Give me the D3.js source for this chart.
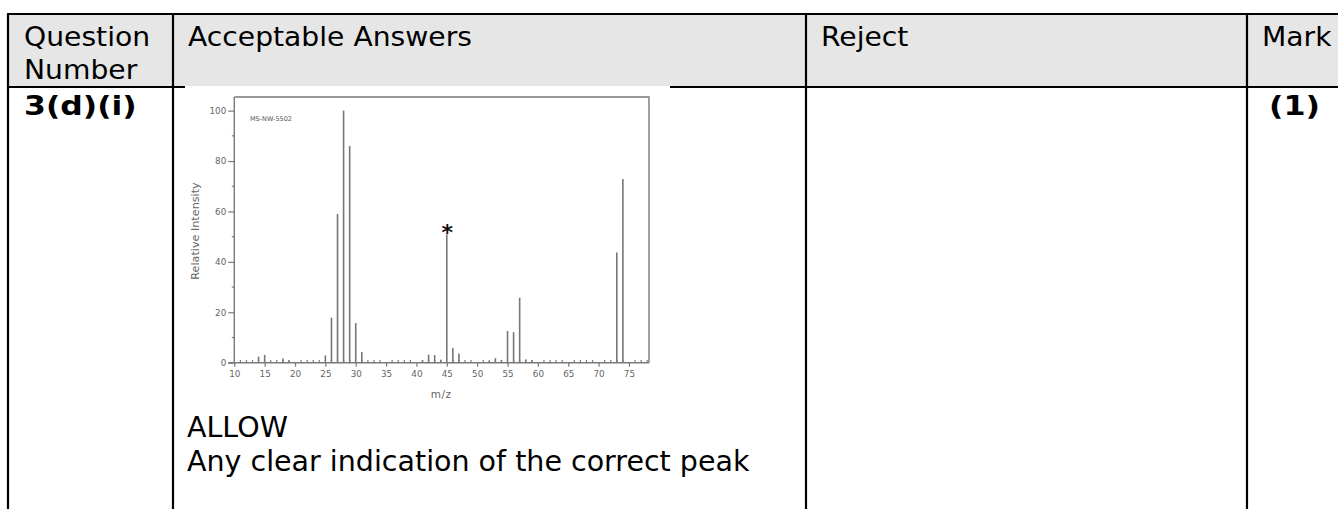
<!DOCTYPE html>
<html>
<head>
<meta charset="utf-8">
<script src="https://cdn.jsdelivr.net/npm/d3@7"></script>
<style>
  html, body { margin: 0; padding: 0; background: #fff; }
  svg { display: block; }
  text { font-family: "DejaVu Sans", Verdana, sans-serif; }
</style>
</head>
<body>
<svg id="chart" width="1338" height="509"></svg>
<script>
// ---- table content ----
const headers = ["Question|Number", "Acceptable Answers", "Reject", "Mark"];
const questionId = "3(d)(i)";
const markText = "(1)";
const answerLines = ["ALLOW", "Any clear indication of the correct peak"];

// ---- spectrum data (m/z, relative intensity) ----
const mzValues = [14, 15, 18, 19, 25, 26, 27, 28, 29, 30, 31, 41, 42, 43, 44, 45, 46, 47, 52, 53, 54, 55, 56, 57, 58, 59, 73, 74];
const intensities = [2.4, 3.1, 1.7, 0.9, 2.9, 17.9, 59, 100, 86, 15.7, 4.2, 1.0, 3.2, 3.0, 1.2, 51, 5.8, 3.6, 0.7, 1.8, 1.0, 12.6, 12.1, 25.8, 1.3, 1.0, 43.7, 72.9];
const xTickLabels = [10, 15, 20, 25, 30, 35, 40, 45, 50, 55, 60, 65, 70, 75];
const yTickLabels = [0, 20, 40, 60, 80, 100];
const markedPeak = 45;
const spectrumId = "MS-NW-5502";

const svg = d3.select("#chart");

// ---- table geometry ----
const colEdges = [8, 173, 806, 1247, 1338];
const tableTop = 14, headerBottom = 87, tableBottom = 509;

svg.append("rect").attr("x", 9).attr("y", tableTop).attr("width", 1338 - 9).attr("height", headerBottom - tableTop)
  .attr("fill", "#e6e6e6");

svg.append("line").attr("x1", colEdges[0] - 1).attr("x2", 1338).attr("y1", tableTop).attr("y2", tableTop)
  .attr("stroke", "#000").attr("stroke-width", 2.2);
svg.append("line").attr("x1", colEdges[0] - 1).attr("x2", 1338).attr("y1", headerBottom).attr("y2", headerBottom)
  .attr("stroke", "#000").attr("stroke-width", 2);

colEdges.slice(0, 4).forEach(x => {
  svg.append("line").attr("x1", x).attr("x2", x).attr("y1", tableTop).attr("y2", tableBottom)
    .attr("stroke", "#000").attr("stroke-width", 2.2);
});

// header text (slightly wide face, like Verdana)
const headerX = [24, 188, 821, 1262];
headers.forEach((h, i) => {
  h.split("|").forEach((line, j) => {
    svg.append("text").attr("transform", `translate(${headerX[i]},${46 + j * 33}) scale(1.085,1)`)
      .attr("font-size", 26).attr("fill", "#000").text(line);
  });
});

// body row text
svg.append("text").attr("transform", "translate(24,115) scale(1.21,1)").attr("font-size", 26)
  .attr("font-weight", "bold").text(questionId);
svg.append("text").attr("transform", "translate(1269,115) scale(1.22,1)").attr("font-size", 26)
  .attr("font-weight", "bold").text(markText);

// ---- spectrum image ----
const g = svg.append("g");
g.append("rect").attr("x", 185).attr("y", 86).attr("width", 485).attr("height", 320).attr("fill", "#fff");

const x = d3.scaleLinear().domain([10, 78.3]).range([234.3, 649]);
const y = d3.scaleLinear().domain([0, 105.4]).range([362.7, 97]);
const axisColor = "#7a7a7a";

g.append("path")
  .attr("d", `M${x(10)},${y(105.4)}H${x(78.3)}V${y(0)}`)
  .attr("fill", "none").attr("stroke", axisColor).attr("stroke-width", 1.4);

const yAxis = d3.axisLeft(y).tickValues(yTickLabels).tickSize(6).tickPadding(2);
const yg = g.append("g").attr("transform", `translate(${x(10)},0)`).call(yAxis);
yg.select(".domain").attr("stroke", axisColor).attr("stroke-width", 1.4).attr("d", `M0,${y(105.4)}V${y(0) + 1}`);
yg.selectAll(".tick line").attr("stroke", axisColor).attr("stroke-width", 1.2);
yg.selectAll(".tick text").attr("fill", "#666").attr("font-size", 8.8).attr("font-family", "DejaVu Sans");
const yMinor = d3.range(10, 100, 20);
g.selectAll(".yminor").data(yMinor).join("line")
  .attr("x1", x(10) - 2.5).attr("x2", x(10)).attr("y1", d => y(d)).attr("y2", d => y(d))
  .attr("stroke", axisColor).attr("stroke-width", 1.2);

const xAxis = d3.axisBottom(x).tickValues(xTickLabels).tickSize(4).tickPadding(4);
const xg = g.append("g").attr("transform", `translate(0,${y(0)})`).call(xAxis);
xg.select(".domain").attr("stroke", axisColor).attr("stroke-width", 1.4).attr("d", `M${x(10) - 6},0H${x(78.3)}`);
xg.selectAll(".tick line").attr("stroke", axisColor).attr("stroke-width", 1.2);
xg.selectAll(".tick text").attr("fill", "#666").attr("font-size", 8.8).attr("font-family", "DejaVu Sans");
const xMinor = d3.range(11, 79).filter(v => v % 5 !== 0);
g.selectAll(".xminor").data(xMinor).join("line")
  .attr("x1", d => x(d)).attr("x2", d => x(d)).attr("y1", y(0)).attr("y2", y(0) - 2.8)
  .attr("stroke", axisColor).attr("stroke-width", 1.2);

const peaks = mzValues.map((m, i) => ({ mz: m, v: intensities[i] }));
g.selectAll(".peak").data(peaks).join("line")
  .attr("x1", d => x(d.mz)).attr("x2", d => x(d.mz))
  .attr("y1", y(0)).attr("y2", d => y(d.v))
  .attr("stroke", "#777").attr("stroke-width", 1.6);

g.append("text").attr("x", (x(10) + x(78.3)) / 2 - 0.5).attr("y", 398).attr("text-anchor", "middle")
  .attr("font-size", 10.5).attr("fill", "#666").attr("letter-spacing", 0.5).text("m/z");
g.append("text").attr("transform", "translate(199,231) rotate(-90)").attr("text-anchor", "middle")
  .attr("font-size", 11.2).attr("fill", "#666").text("Relative Intensity");
g.append("text").attr("x", 250).attr("y", 121).attr("font-size", 6.5).attr("fill", "#555").text(spectrumId);

const mp = peaks.find(p => p.mz === markedPeak);
g.append("text").attr("x", x(mp.mz) + 0.5).attr("y", y(mp.v) + 6).attr("text-anchor", "middle")
  .attr("font-size", 22).attr("font-weight", "bold").attr("fill", "#111").text("*");

answerLines.forEach((line, i) => {
  svg.append("text").attr("x", 187).attr("y", 437 + i * 34).attr("font-size", 28.5).attr("fill", "#000").text(line);
});
</script>
</body>
</html>
